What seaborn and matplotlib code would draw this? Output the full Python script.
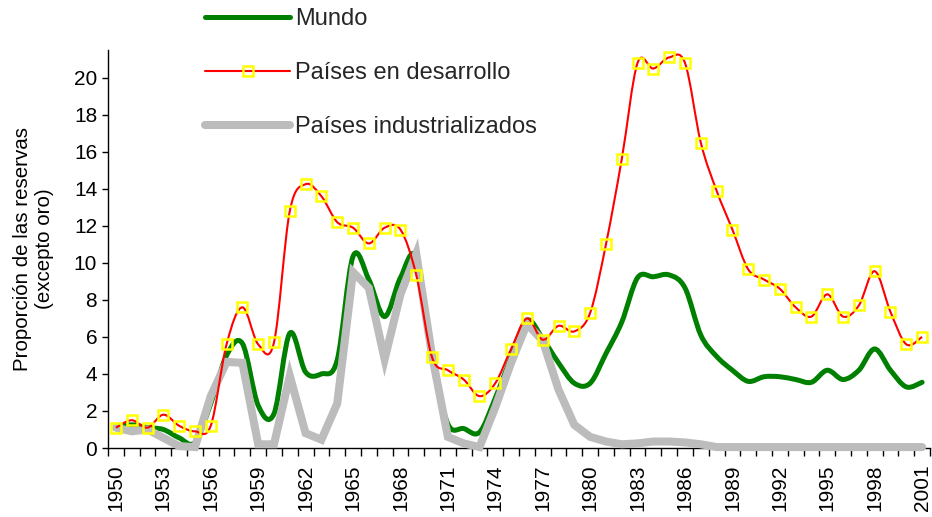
import numpy as np
import matplotlib
matplotlib.use('Agg')
import matplotlib.pyplot as plt
import seaborn as sns
from matplotlib.path import Path
from matplotlib.patches import PathPatch
from matplotlib.lines import Line2D

# data
years = list(range(1950, 2002))

mundo = [1.1, 1.25, 1.1, 1.0, 0.55, 0.3, 2.4, 5.0, 5.65, 2.3,
         1.85, 6.2, 4.1, 4.0, 4.75, 10.35, 9.1, 7.1, 9.2, 10.3,
         4.9, 1.3, 1.05, 0.85, 2.7, 4.9, 6.9, 5.9, 4.6, 3.5,
         3.5, 5.1, 6.8, 9.2, 9.25, 9.35, 8.65, 6.1, 4.95, 4.2,
         3.6, 3.85, 3.85, 3.7, 3.55, 4.2, 3.7, 4.2, 5.35, 4.2,
         3.3, 3.55]

desarrollo = [1.1, 1.5, 1.1, 1.8, 1.2, 0.9, 1.2, 5.6, 7.6, 5.6,
              5.7, 12.8, 14.25, 13.6, 12.2, 11.9, 11.05, 11.9, 11.8, 9.35,
              4.9, 4.2, 3.7, 2.8, 3.5, 5.35, 7.0, 5.85, 6.6, 6.3,
              7.3, 11.0, 15.6, 20.8, 20.5, 21.1, 20.8, 16.5, 13.9, 11.8,
              9.65, 9.1, 8.6, 7.6, 7.1, 8.3, 7.1, 7.7, 9.55, 7.35,
              5.6, 6.0]

industrial = [1.1, 0.9, 1.0, 0.55, 0.1, 0.05, 2.8, 4.65, 4.6, 0.2,
              0.2, 3.9, 0.8, 0.45, 2.4, 9.5, 8.65, 4.8, 8.3, 10.5,
              5.0, 0.6, 0.25, 0.05, 2.2, 4.6, 6.7, 5.8, 3.15, 1.25,
              0.6, 0.35, 0.2, 0.25, 0.35, 0.35, 0.3, 0.2, 0.05, 0.05,
              0.05, 0.05, 0.05, 0.05, 0.05, 0.05, 0.05, 0.05, 0.05, 0.05,
              0.05, 0.05]

labels = ['Mundo', 'Países en desarrollo', 'Países industrializados']
ylabel = 'Proporción de las reservas\n(excepto oro)'

GREEN = '#008000'
RED = '#FF0000'
YELLOW = '#FFFF00'
GREY = '#bcbcbc'

sns.set_theme(style='white')
plt.rcParams['font.family'] = ['Liberation Sans', 'DejaVu Sans']


def smooth_path(x, y):
    # excel style smoothed line: cubic bezier through every point
    n = len(x)
    verts = [(x[0], y[0])]
    codes = [Path.MOVETO]
    for i in range(n - 1):
        a = max(i - 1, 0)
        b = min(i + 2, n - 1)
        c1 = (x[i] + (x[i + 1] - x[a]) / 6, y[i] + (y[i + 1] - y[a]) / 6)
        c2 = (x[i + 1] - (x[b] - x[i]) / 6, y[i + 1] - (y[b] - y[i]) / 6)
        verts += [c1, c2, (x[i + 1], y[i + 1])]
        codes += [Path.CURVE4] * 3
    return Path(verts, codes)


fig = plt.figure(figsize=(9.32, 5.17), dpi=100)
ax = fig.add_axes([108 / 932, 69 / 517, 822 / 932, 398 / 517])

# Mundo (smoothed, thick green)
ax.add_patch(PathPatch(smooth_path(years, mundo), fill=False, edgecolor=GREEN,
                       lw=3.6, capstyle='round', joinstyle='round', zorder=2))

# industrialized countries (straight thick grey)
sns.lineplot(x=years, y=industrial, color=GREY, lw=5.8, ax=ax, zorder=3,
             solid_joinstyle='miter', clip_on=False)

# developing countries (smoothed red + yellow square markers)
ax.add_patch(PathPatch(smooth_path(years, desarrollo), fill=False, edgecolor=RED,
                       lw=1.5, zorder=4))
sns.lineplot(x=years, y=desarrollo, linestyle='', marker='s', markersize=7,
             markerfacecolor='none', markeredgecolor=YELLOW, markeredgewidth=1.8,
             color=RED, ax=ax, zorder=5, clip_on=False)

ax.set_xlim(1949.5, 2001.5)
ax.set_ylim(0, 21.5)
ax.set_yticks(range(0, 21, 2))
ax.set_xticks(years[::3])
ax.set_xticklabels([str(y) for y in years[::3]], rotation=90)
ax.set_xticks(np.arange(1949.5, 2002, 1), minor=True)
ax.tick_params(axis='x', which='major', length=0, pad=12, labelsize=15, colors='black')
ax.tick_params(axis='x', which='minor', bottom=True, length=5.8, width=1, color='black')
ax.tick_params(axis='y', left=True, length=4.3, width=1, pad=3.5, labelsize=15, colors='black')

sns.despine(ax=ax)
for s in ['left', 'bottom']:
    ax.spines[s].set_color('black')
    ax.spines[s].set_linewidth(1)

ax.set_xlabel('')
ax.set_ylabel(ylabel, fontsize=14.8, color='black', linespacing=1.15)
ax.yaxis.set_label_coords(-0.066, 0.5)

handles = [
    Line2D([], [], color=GREEN, lw=3.6),
    Line2D([], [], color=RED, lw=1.5, marker='s', markersize=7,
           markerfacecolor='none', markeredgecolor=YELLOW, markeredgewidth=1.8),
    Line2D([], [], color=GREY, lw=5.8),
]
fig.legend(handles, labels, loc='upper left', bbox_to_anchor=(205 / 932, 1 - 8 / 517),
           frameon=False, fontsize=17, borderpad=0, borderaxespad=0,
           handlelength=3.6, handletextpad=0.2, labelspacing=1.36, numpoints=1)

fig.savefig('out.png', dpi=100)
